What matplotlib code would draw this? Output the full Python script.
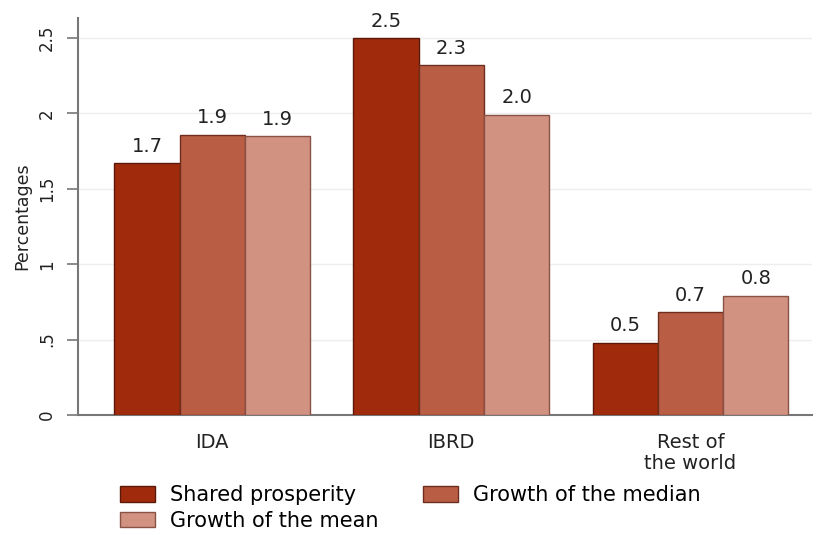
import matplotlib
matplotlib.use("Agg")
import matplotlib.pyplot as plt
import numpy as np

# data
groups = ["IDA", "IBRD", "Rest of\nthe world"]
series_names = ["Shared prosperity", "Growth of the median", "Growth of the mean"]
shared_prosperity = [1.67, 2.50, 0.48]
growth_median = [1.86, 2.32, 0.68]
growth_mean = [1.85, 1.99, 0.79]
yticks = [0, 0.5, 1, 1.5, 2, 2.5]
ytick_labels = ["0", ".5", "1", "1.5", "2", "2.5"]

fill_colors = ["#a02b0c", "#b95d45", "#d19282"]
edge_colors = ["#5c1808", "#6e2e1e", "#8a5244"]

plt.rcParams["font.family"] = ["DejaVu Sans"]

fig = plt.figure(figsize=(8.16, 5.35), dpi=100)
ax = fig.add_axes([0.0956, 0.2243, 0.9, 0.742])

x = np.arange(len(groups))
width = 0.273
handles = []
for i, vals in enumerate([shared_prosperity, growth_median, growth_mean]):
    pos = x + (i - 1) * width
    bars = ax.bar(pos, vals, width, color=fill_colors[i], edgecolor=edge_colors[i],
                  linewidth=1.0, label=series_names[i], zorder=3)
    handles.append(bars)
    for xp, v in zip(pos, vals):
        ax.text(xp, v + 0.05, f"{v:.1f}", ha="center", va="bottom",
                fontsize=14, color="#222222", zorder=4)

ax.set_xlim(-0.561, 2.51)
ax.set_ylim(0, 2.633)
ax.set_yticks(yticks)
ax.set_yticklabels(ytick_labels, rotation=90, va="center", fontsize=12, color="#222222")
ax.set_xticks(x)
ax.set_xticklabels(groups, fontsize=14, color="#222222", linespacing=1.1)
ax.tick_params(axis="x", length=0, pad=13)
ax.tick_params(axis="y", length=8, width=1.2, color="#777777", pad=8)
ax.set_ylabel("Percentages", fontsize=12.5, color="#222222", labelpad=5)

for yt in yticks[1:]:
    ax.axhline(yt, color="#eeeeee", linewidth=1.0, zorder=1)

for side in ["top", "right"]:
    ax.spines[side].set_visible(False)
for side in ["left", "bottom"]:
    ax.spines[side].set_color("#777777")
    ax.spines[side].set_linewidth(1.5)

# legend in row-major order like the reference
order = [0, 2, 1]
fig.legend([handles[k] for k in order], [series_names[k] for k in order],
           ncol=2, loc="upper left", bbox_to_anchor=(0.147, 0.0926), frameon=False,
           fontsize=15, handlelength=1.68, handleheight=0.77, handletextpad=0.72,
           columnspacing=2.15, labelspacing=0.25, borderaxespad=0, borderpad=0)

fig.savefig("out.png", dpi=100)
